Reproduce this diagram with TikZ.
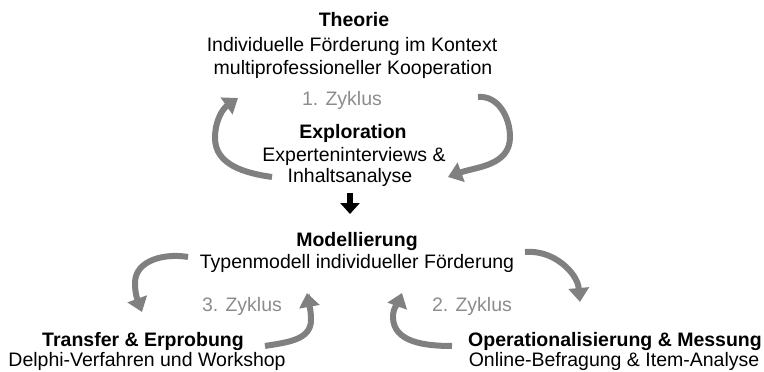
\documentclass[tikz,border=0pt]{standalone}
\usepackage{fontspec}
\setmainfont{Liberation Sans}
\usetikzlibrary{arrows.meta}
\definecolor{cycgray}{RGB}{128,128,128}
\definecolor{lblgray}{RGB}{140,140,140}

\begin{document}
\begin{tikzpicture}[x=1pt,y=1pt,
    txt/.style={anchor=base,inner sep=0pt,font=\fontsize{19.5}{22}\selectfont},
    head/.style={txt,font=\fontsize{19.5}{22}\selectfont\bfseries},
    zyk/.style={txt,text=lblgray},
    cyc/.style={draw=cycgray,line width=6pt,-{Triangle[width=20pt,length=14pt]}}]
    \useasboundingbox (0,0) rectangle (764,-372);

    % Theorie
    \node[head] (theo)  at (354,-27) {Theorie};
    \node[txt]  (theo1) at (352,-51) {Individuelle Förderung im Kontext};
    \node[txt]  (theo2) at (353,-74) {multiprofessioneller Kooperation};

    % 1. Zyklus
    \node[zyk]  (zyk1)  at (342,-105) {1. Zyklus};
    \node[head] (expl)  at (353,-138) {Exploration};
    \node[txt]  (expl1) at (354,-161) {Experteninterviews \&};
    \node[txt]  (expl2) at (350,-182) {Inhaltsanalyse};
    \draw[cyc] (272,-177) to[out=172,in=270] (215,-138) to[out=90,in=215] (238,-98);
    \draw[cyc] (478,-97) to[out=5,in=90] (510,-137) to[out=270,in=20] (448,-177);

    % Pfeil nach unten
    \coordinate (down1) at (350,-193);
    \coordinate (down2) at (350,-214);
    \draw[line width=6.5pt,-{Triangle[width=19pt,length=11pt]}] (down1) -- (down2);

    % Modellierung
    \node[head] (mod)  at (357,-246) {Modellierung};
    \node[txt]  (mod1) at (357,-268) {Typenmodell individueller Förderung};

    % 3. Zyklus
    \node[zyk]  (zyk3)   at (242,-311) {3. Zyklus};
    \node[head] (trans)  at (143,-346) {Transfer \& Erprobung};
    \node[txt]  (trans1) at (147,-366) {Delphi-Verfahren und Workshop};
    \draw[cyc] (188,-257) to[out=170,in=90] (135,-283) to[out=270,in=110] (142,-312);
    \draw[cyc] (265,-346) to[out=10,in=270] (311,-320) to[out=90,in=280] (307,-293);

    % 2. Zyklus
    \node[zyk]  (zyk2)  at (472,-311) {2. Zyklus};
    \node[head] (oper)  at (615,-346) {Operationalisierung \& Messung};
    \node[txt]  (oper1) at (614,-366) {Online-Befragung \& Item-Analyse};
    \draw[cyc] (525,-252) to[out=5,in=95] (580,-302);
    \draw[cyc] (452,-346) to[out=180,in=270] (393,-317) to[out=90,in=250] (402,-293);
\end{tikzpicture}
\end{document}
